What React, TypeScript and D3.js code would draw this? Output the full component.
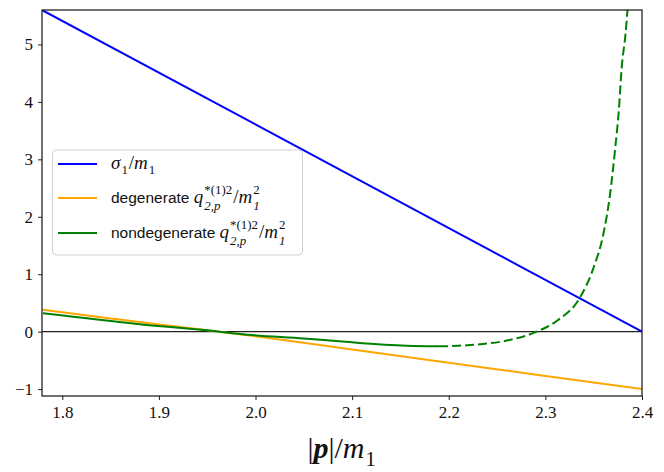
import React, { useEffect, useRef } from 'react';
import * as d3 from 'd3';

// axis ranges and ticks
const xDomain = [1.779, 2.4];
const yDomain = [-1.12, 5.6];
const xTicks = [1.8, 1.9, 2.0, 2.1, 2.2, 2.3, 2.4];
const yTicks = [-1, 0, 1, 2, 3, 4, 5];

// sigma_1 / m_1
const sigmaX = [1.779, 2.4];
const sigmaY = [5.6, 0];

// degenerate q^2
const degX = [1.78, 1.85, 1.9, 1.963, 2.0, 2.1, 2.2, 2.3, 2.4];
const degY = [0.38, 0.23, 0.125, 0, -0.08, -0.31, -0.54, -0.77, -1.0];

// nondegenerate q^2, solid part
const ndX = [1.78, 1.88, 1.963, 1.984, 2.05, 2.087, 2.156, 2.19];
const ndY = [0.32, 0.13, 0, -0.04, -0.12, -0.168, -0.244, -0.256];

// nondegenerate q^2, dashed part
const ndDashX = [2.19, 2.21, 2.2355, 2.263, 2.291, 2.312, 2.336, 2.35, 2.36, 2.367, 2.372, 2.376, 2.379, 2.383, 2.385];
const ndDashY = [-0.256, -0.245, -0.215, -0.145, 0, 0.19, 0.6, 1.12, 1.7, 2.4, 3.15, 3.85, 4.6, 5.19, 5.6];

const W = 664;
const H = 472;
const margin = { top: 10, right: 22, bottom: 76, left: 42 };

const SERIF = '"Liberation Serif", "DejaVu Serif", serif';
const SANS = '"Liberation Sans", "DejaVu Sans", sans-serif';

type Piece = { t: string; font?: string; italic?: boolean; bold?: boolean; size?: number; sup?: string; sub?: string };

const App: React.FC = () => {
  const svgRef = useRef<SVGSVGElement | null>(null);

  useEffect(() => {
    if (!svgRef.current) return;
    const svg = d3.select(svgRef.current);
    svg.selectAll('*').remove();

    const x = d3.scaleLinear().domain(xDomain).range([margin.left, W - margin.right]);
    const y = d3.scaleLinear().domain(yDomain).range([H - margin.bottom, margin.top]);

    svg.append('defs').append('clipPath').attr('id', 'plot-clip')
      .append('rect')
      .attr('x', margin.left).attr('y', margin.top)
      .attr('width', W - margin.left - margin.right)
      .attr('height', H - margin.top - margin.bottom);

    // zero line
    svg.append('line')
      .attr('x1', margin.left).attr('x2', W - margin.right)
      .attr('y1', y(0)).attr('y2', y(0))
      .attr('stroke', '#222').attr('stroke-width', 1.2);

    const line = d3.line<[number, number]>()
      .x(d => x(d[0])).y(d => y(d[1]))
      .curve(d3.curveMonotoneX);
    const zip = (a: number[], b: number[]) => a.map((v, i) => [v, b[i]] as [number, number]);

    const plot = svg.append('g').attr('clip-path', 'url(#plot-clip)');
    plot.append('path').attr('d', line(zip(sigmaX, sigmaY))!)
      .attr('fill', 'none').attr('stroke', '#0000ff').attr('stroke-width', 2);
    plot.append('path').attr('d', line(zip(degX, degY))!)
      .attr('fill', 'none').attr('stroke', '#ffa500').attr('stroke-width', 2);
    plot.append('path').attr('d', line(zip(ndX, ndY))!)
      .attr('fill', 'none').attr('stroke', '#008000').attr('stroke-width', 2);
    plot.append('path').attr('d', line(zip(ndDashX, ndDashY))!)
      .attr('fill', 'none').attr('stroke', '#008000').attr('stroke-width', 2)
      .attr('stroke-dasharray', '9,4');

    // axes
    const xAxis = svg.append('g')
      .attr('transform', `translate(0, ${H - margin.bottom})`)
      .call(d3.axisBottom(x).tickValues(xTicks).tickFormat(d3.format('.1f')).tickSizeOuter(0).tickSize(4).tickPadding(6));
    const yAxis = svg.append('g')
      .attr('transform', `translate(${margin.left}, 0)`)
      .call(d3.axisLeft(y).tickValues(yTicks).tickFormat(d => (+d < 0 ? '\u2212' + Math.abs(+d) : String(d))).tickSizeOuter(0).tickSize(4).tickPadding(5));
    [xAxis, yAxis].forEach(a => {
      a.attr('font-family', null).attr('font-size', null);
      a.select('.domain').remove();
      a.selectAll('line').attr('stroke', '#222').attr('stroke-width', 1);
      a.selectAll('text').style('font-family', SERIF).style('font-size', '17px').attr('fill', '#111');
    });

    // frame
    svg.append('rect')
      .attr('x', margin.left).attr('y', margin.top)
      .attr('width', W - margin.left - margin.right)
      .attr('height', H - margin.top - margin.bottom)
      .attr('fill', 'none').attr('stroke', '#111').attr('stroke-width', 1.2);

    // inline math-ish text writer
    const write = (g: d3.Selection<SVGGElement, unknown, null, undefined>, x0: number, y0: number, pieces: Piece[], base: number) => {
      let cx = x0;
      pieces.forEach(p => {
        const size = p.size ?? base;
        const t = g.append('text')
          .attr('x', cx).attr('y', y0)
          .style('font-family', p.font ?? SERIF)
          .attr('font-style', p.italic ? 'italic' : 'normal')
          .attr('font-weight', p.bold ? 'bold' : 'normal')
          .attr('font-size', size)
          .attr('fill', '#111')
          .attr('xml:space', 'preserve')
          .text(p.t);
        const w = (t.node() as SVGTextElement).getComputedTextLength();
        let extra = 0;
        if (p.sup) {
          const s = g.append('text').attr('x', cx + w + 1).attr('y', y0 - size * (p.sub ? 0.5 : 0.42))
            .style('font-family', SERIF).attr('font-size', size * 0.68).attr('fill', '#111').text(p.sup);
          extra = Math.max(extra, (s.node() as SVGTextElement).getComputedTextLength());
        }
        if (p.sub) {
          const s = g.append('text').attr('x', cx + w + 1).attr('y', y0 + size * (p.sup ? 0.36 : 0.28))
            .style('font-family', SERIF).attr('font-style', p.sup ? 'italic' : 'normal').attr('font-size', size * 0.68).attr('fill', '#111').text(p.sub);
          extra = Math.max(extra, (s.node() as SVGTextElement).getComputedTextLength());
        }
        cx += w + (extra > 0 ? extra + 2 : 0);
      });
      return cx;
    };

    // legend
    const lg = svg.append('g');
    lg.append('rect')
      .attr('x', 52.5).attr('y', 150).attr('width', 250).attr('height', 105)
      .attr('rx', 4).attr('fill', 'white').attr('fill-opacity', 0.8)
      .attr('stroke', '#d0d0d0').attr('stroke-width', 1);
    const rows: { color: string; pieces: Piece[] }[] = [
      { color: '#0000ff', pieces: [{ t: 'σ', italic: true, sub: '1' }, { t: '/' }, { t: 'm', italic: true, sub: '1' }] },
      { color: '#ffa500', pieces: [{ t: 'degenerate ', font: SANS, size: 15.5 }, { t: 'q', italic: true, sup: '*(1)2', sub: '2,p' }, { t: '/' }, { t: 'm', italic: true, sup: '2', sub: '1' }] },
      { color: '#008000', pieces: [{ t: 'nondegenerate ', font: SANS, size: 15.5 }, { t: 'q', italic: true, sup: '*(1)2', sub: '2,p' }, { t: '/' }, { t: 'm', italic: true, sup: '2', sub: '1' }] },
    ];
    const rowY = [164, 198, 233];
    rows.forEach((r, i) => {
      lg.append('line').attr('x1', 58).attr('x2', 97).attr('y1', rowY[i]).attr('y2', rowY[i])
        .attr('stroke', r.color).attr('stroke-width', 2);
      write(lg, 111, rowY[i] + 5, r.pieces, 19);
    });

    // x label
    const xl = svg.append('g');
    const labelPieces: Piece[] = [{ t: '|' }, { t: 'p', italic: true, bold: true }, { t: '|/' }, { t: 'm', italic: true, sub: '1' }];
    const tmp = svg.append('g');
    const wLabel = write(tmp, 0, -100, labelPieces, 30);
    tmp.remove();
    write(xl, (margin.left + W - margin.right) / 2 - wLabel / 2, 458, labelPieces, 30);
  }, []);

  return (
    <svg ref={svgRef} width={W} height={H} style={{ position: 'absolute', left: 0, top: 0, background: 'white' }} />
  );
};

export default App;
